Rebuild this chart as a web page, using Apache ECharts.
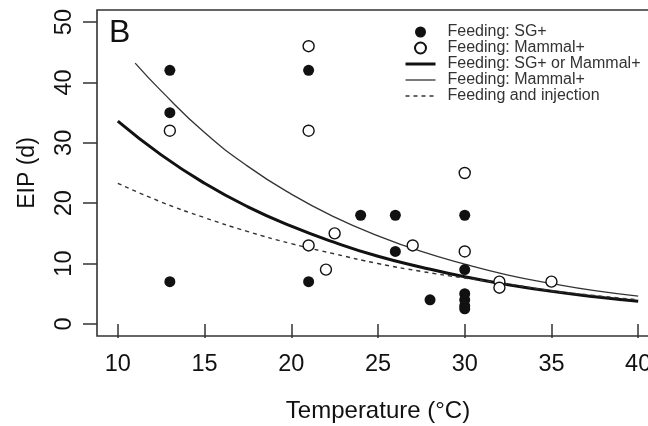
<!DOCTYPE html>
<html>
<head>
<meta charset="utf-8">
<script src="https://cdn.jsdelivr.net/npm/echarts@6/dist/echarts.min.js"></script>
<style>
  html, body { margin: 0; padding: 0; background: #fff; }
  #chart { width: 648px; height: 426px; }
</style>
</head>
<body>
<div id="chart"></div>
<script>
// 观测点（温度, EIP）
const sgPoints = [
  [13, 42], [13, 35], [13, 7],
  [21, 42], [21, 7],
  [24, 18], [26, 18], [26, 12], [28, 4],
  [30, 18], [30, 9], [30, 5], [30, 4], [30, 3], [30, 2.5]
]
const mammalPoints = [
  [13, 32], [21, 46], [21, 32], [21, 13], [22, 9], [22.5, 15],
  [27, 13], [30, 25], [30, 12], [32, 7], [32, 6], [35, 7]
]

// 拟合曲线（读图取值）
const fitTemps = [10, 12.5, 15, 17.5, 20, 22.5, 25, 27.5, 30, 32.5, 35, 37.5, 40]
const fitBoth = [33.6, 28.0, 23.3, 19.4, 16.2, 13.5, 11.2, 9.4, 7.8, 6.5, 5.4, 4.5, 3.75]
const fitMammalTemps = [11, 12.5, 15, 17.5, 20, 22.5, 25, 27.5, 30, 32.5, 35, 37.5, 40]
const fitMammal = [43.2, 38.6, 31.7, 26.1, 21.5, 17.7, 14.6, 12.0, 9.9, 8.1, 6.7, 5.5, 4.6]
const fitInjection = [23.3, 20.2, 17.6, 15.3, 13.3, 11.6, 10.0, 8.7, 7.6, 6.6, 5.5, 4.7, 4.0]

// 刻度
const xTicks = [10, 15, 20, 25, 30, 35, 40]
const yTicks = [0, 10, 20, 30, 40, 50]

const legendLabels = {
  sg: 'Feeding: SG+',
  mammal: 'Feeding: Mammal+',
  both: 'Feeding: SG+ or Mammal+',
  mammalFit: 'Feeding: Mammal+',
  inj: 'Feeding and injection'
}

const pair = (xs, ys) => xs.map((x, i) => [x, ys[i]])

const ink = '#111'
const font = 'Liberation Sans, Arial, sans-serif'

const chart = echarts.init(document.getElementById('chart'))

const option = {
  animation: false,
  title: {
    text: 'B',
    left: 104,
    top: 12,
    textStyle: { fontFamily: font, fontSize: 32, fontWeight: 'normal', color: ink }
  },
  legend: {
    orient: 'vertical',
    left: 404,
    top: 24,
    padding: 0,
    itemWidth: 30,
    itemHeight: 11,
    itemGap: 0,
    textStyle: {
      fontFamily: font,
      fontSize: 16,
      lineHeight: 15,
      color: '#333',
      padding: [0, 0, 0, 7]
    },
    formatter: name => legendLabels[name] || name,
    data: [
      { name: 'sg', icon: 'circle' },
      { name: 'mammal', icon: 'circle' },
      { name: 'both', lineStyle: { width: 3 } },
      { name: 'mammalFit', lineStyle: { width: 1.3 } },
      { name: 'inj', lineStyle: { width: 1.4 } }
    ]
  },
  grid: {
    left: 97,
    top: 10,
    width: 562,
    height: 326,
    outerBoundsMode: 'none',
    show: true,
    borderColor: '#333',
    borderWidth: 1.6
  },
  xAxis: {
    type: 'value',
    min: 8.8,
    max: 41.2,
    name: 'Temperature (°C)',
    nameLocation: 'middle',
    nameGap: 63,
    nameTextStyle: { fontFamily: font, fontSize: 24, color: ink },
    axisLine: { show: false },
    splitLine: { show: false },
    axisTick: {
      show: true,
      length: 14,
      customValues: xTicks,
      lineStyle: { color: '#333', width: 1.5 }
    },
    axisLabel: {
      customValues: xTicks,
      margin: 17,
      fontFamily: font,
      fontSize: 23.5,
      color: ink
    }
  },
  yAxis: {
    type: 'value',
    min: -2,
    max: 52,
    name: 'EIP (d)',
    nameLocation: 'middle',
    nameRotate: 90,
    nameGap: 58,
    nameTextStyle: { fontFamily: font, fontSize: 23, color: ink },
    axisLine: { show: false },
    splitLine: { show: false },
    axisTick: {
      show: true,
      length: 14,
      customValues: yTicks,
      lineStyle: { color: '#333', width: 1.5 }
    },
    axisLabel: {
      customValues: yTicks,
      rotate: 90,
      margin: 20,
      fontFamily: font,
      fontSize: 23.5,
      color: ink
    }
  },
  series: [
    {
      name: 'sg',
      type: 'scatter',
      symbol: 'circle',
      symbolSize: 11,
      itemStyle: { color: ink, opacity: 1 },
      data: sgPoints,
      z: 4
    },
    {
      name: 'mammal',
      type: 'scatter',
      symbol: 'circle',
      symbolSize: 11,
      itemStyle: { color: '#fff', borderColor: ink, borderWidth: 1.4, opacity: 1 },
      data: mammalPoints,
      z: 4
    },
    {
      name: 'both',
      type: 'line',
      smooth: true,
      symbol: 'none',
      itemStyle: { color: ink, opacity: 0 },
      lineStyle: { color: ink, width: 3 },
      data: pair(fitTemps, fitBoth),
      z: 3
    },
    {
      name: 'mammalFit',
      type: 'line',
      smooth: true,
      symbol: 'none',
      itemStyle: { color: ink, opacity: 0 },
      lineStyle: { color: '#333', width: 1.3 },
      data: pair(fitMammalTemps, fitMammal),
      z: 3
    },
    {
      name: 'inj',
      type: 'line',
      smooth: true,
      symbol: 'none',
      itemStyle: { color: ink, opacity: 0 },
      lineStyle: { color: '#333', width: 1.4, type: [4, 4] },
      data: pair(fitTemps, fitInjection),
      z: 3
    }
  ]
}

chart.setOption(option)
</script>
</body>
</html>
